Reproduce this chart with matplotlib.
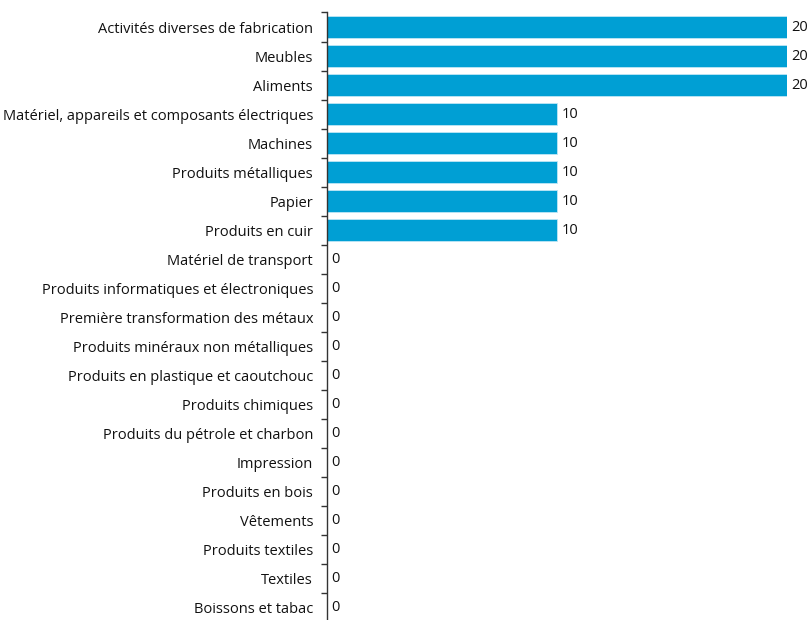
import matplotlib
matplotlib.use("Agg")
import matplotlib.pyplot as plt
import numpy as np

plt.rcParams['font.family'] = ['Open Sans', 'DejaVu Sans']

categories = [
    "Activités diverses de fabrication",
    "Meubles",
    "Aliments",
    "Matériel, appareils et composants électriques",
    "Machines",
    "Produits métalliques",
    "Papier",
    "Produits en cuir",
    "Matériel de transport",
    "Produits informatiques et électroniques",
    "Première transformation des métaux",
    "Produits minéraux non métalliques",
    "Produits en plastique et caoutchouc",
    "Produits chimiques",
    "Produits du pétrole et charbon",
    "Impression",
    "Produits en bois",
    "Vêtements",
    "Produits textiles",
    "Textiles",
    "Boissons et tabac",
]
values = [20, 20, 20, 10, 10, 10, 10, 10, 0, 0, 0, 0, 0, 0, 0, 0, 0, 0, 0, 0, 0]

W, H = 810, 620
fig = plt.figure(figsize=(W / 100, H / 100), dpi=100)
# axis from y=11.5 to y=621.5 (image px), x from 327 (0) to 787 (20)
ax = fig.add_axes([327 / W, -2.5 / H, (787 - 327) / W, 610 / H])

y = np.arange(len(categories))
ax.barh(y, values, height=0.76, color='#009FD4', edgecolor='#BFE6F5', linewidth=0.6)
ax.set_ylim(len(categories) - 0.5, -0.5)
ax.set_xlim(0, 20)

for yi, v in zip(y, values):
    ax.text(v + 0.2, yi, str(v), va='center', ha='left', fontsize=10.5, color='#111111')

ax.set_yticks(y)
ax.set_yticklabels(categories, fontsize=10.5, color='#111111')
ax.set_yticks(np.arange(len(categories) + 1) - 0.5, minor=True)
ax.tick_params(axis='y', which='major', length=0, pad=10)
ax.tick_params(axis='y', which='minor', length=4, width=1, color='#333333')
ax.set_xticks([])
for s in ['top', 'right', 'bottom']:
    ax.spines[s].set_visible(False)
ax.spines['left'].set_color('#333333')
ax.spines['left'].set_linewidth(1)

fig.savefig('out.png', dpi=100)
